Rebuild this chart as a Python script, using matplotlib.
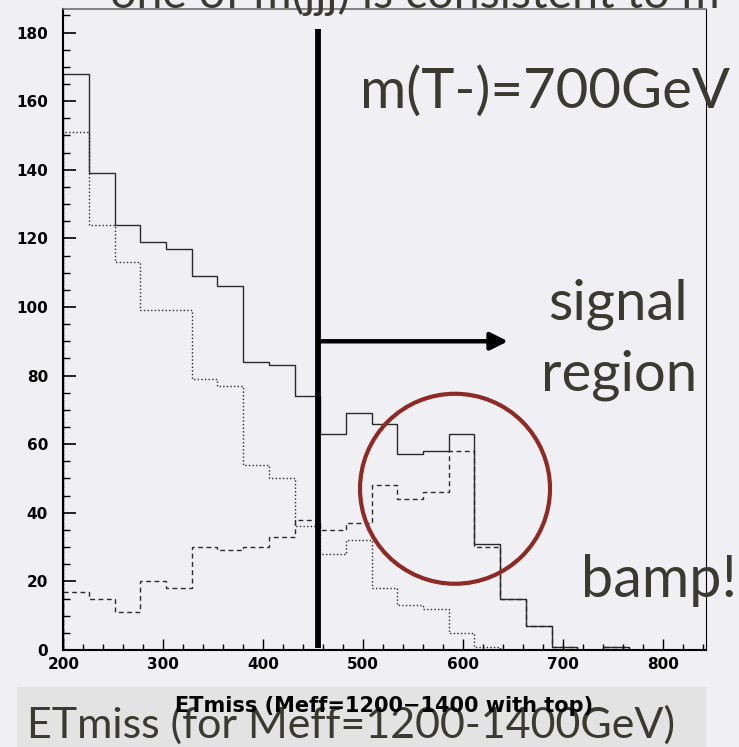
import numpy as np
import matplotlib
matplotlib.use("Agg")
import matplotlib.pyplot as plt
from matplotlib.patches import Ellipse, Rectangle
from matplotlib.ticker import MultipleLocator

# ETmiss histogram, 25 bins starting at 200 GeV
bin_start = 200.0
bin_width = 25.714
n_bins = 25

# total (solid), other background (dotted), events with top (dashed)
total = [168, 139, 124, 119, 117, 109, 106, 84, 83, 74, 63, 69, 66,
         57, 58, 63, 31, 15, 7, 1, 0, 1, 0, 0, 0]
other = [151, 124, 113, 99, 99, 79, 77, 54, 50, 36, 28, 32, 18,
         13, 12, 5, 1, 0, 0, 0, 0, 0, 0, 0, 0]
with_top = [17, 15, 11, 20, 18, 30, 29, 30, 33, 38, 35, 37, 48,
            44, 46, 58, 30, 15, 7, 1, 0, 1, 0, 0, 0]

cut_value = 455          # signal-region cut on ETmiss
arrow_y = 90
arrow_end = 645
bump_center = (592, 47)  # circled excess

x_ticks = [200, 300, 400, 500, 600, 700, 800]
y_ticks = [0, 20, 40, 60, 80, 100, 120, 140, 160, 180]

edges = bin_start + bin_width * np.arange(n_bins + 1)

BG = "#F0F0F4"
TXT = "#3A3A30"
SLIDE_FONT = ["Lato", "DejaVu Sans"]

fig = plt.figure(figsize=(7.39, 7.47), dpi=100, facecolor=BG)
ax = fig.add_axes([0.0857, 0.1299, 0.8692, 0.8577])
ax.set_facecolor("none")

ax.stairs(total, edges, color="#2a2a2a", lw=1.0)
ax.stairs(other, edges, color="#2a2a2a", lw=1.0, linestyle=(0, (1, 1.6)))
ax.stairs(with_top, edges, color="#2a2a2a", lw=1.0, linestyle=(0, (3.5, 2.5)))

ax.set_xlim(edges[0], edges[-1])
ax.set_ylim(0, 186.8)

ax.set_xticks(x_ticks)
ax.set_yticks(y_ticks)
ax.xaxis.set_minor_locator(MultipleLocator(20))
ax.yaxis.set_minor_locator(MultipleLocator(5))
ax.tick_params(axis="both", which="both", direction="in", color="black")
ax.tick_params(axis="y", which="major", length=9.5, width=1.2, pad=11)
ax.tick_params(axis="y", which="minor", length=4.8, width=1.0)
ax.tick_params(axis="x", which="major", length=8, width=1.0, pad=5)
ax.tick_params(axis="x", which="minor", length=4.3, width=1.0)
for lbl in ax.get_xticklabels() + ax.get_yticklabels():
    lbl.set_fontfamily("DejaVu Sans")
    lbl.set_fontweight("bold")
    lbl.set_fontsize(11)

ax.spines["left"].set_linewidth(1.5)
ax.spines["bottom"].set_linewidth(1.5)
ax.spines["right"].set_linewidth(0.8)
ax.spines["top"].set_linewidth(1.2)
ax.spines["top"].set_color("#707070")

# cut line and arrow into the signal region
ax.plot([cut_value, cut_value], [0.5, 181], color="black", lw=4.2,
        solid_capstyle="butt", zorder=5)
ax.annotate("", xy=(arrow_end, arrow_y), xytext=(cut_value, arrow_y),
            arrowprops=dict(arrowstyle="-|>", lw=3.2, color="black",
                            mutation_scale=26, shrinkA=0, shrinkB=0),
            zorder=5)

# circle round the excess (equal pixel radius in x and y)
px_per_x = ax.get_window_extent().width / (edges[-1] - edges[0])
px_per_y = ax.get_window_extent().height / 186.8
r_px = 95
ax.add_patch(Ellipse(bump_center, 2 * r_px / px_per_x, 2 * r_px / px_per_y,
                     fill=False, edgecolor="#8E2A24", lw=3.0, zorder=6))

# slide annotations
fig.text(730 / 739, 1 - 108 / 747, "m(T-)=700GeV", ha="right", va="baseline",
         fontsize=40.5, color=TXT, family=SLIDE_FONT)
fig.text(688 / 739, 1 - 320 / 747, "signal", ha="right", va="baseline",
         fontsize=40.5, color=TXT, family=SLIDE_FONT)
fig.text(697 / 739, 1 - 390 / 747, "region", ha="right", va="baseline",
         fontsize=40.5, color=TXT, family=SLIDE_FONT)
fig.text(737 / 739, 1 - 597 / 747, "bamp!", ha="right", va="baseline",
         fontsize=41.5, color=TXT, family=SLIDE_FONT)
fig.text(110 / 739, 1 - 8 / 747, "one of m(jjj) is consistent to m",
         ha="left", va="baseline", fontsize=33.5, color=TXT, family=SLIDE_FONT)

# caption band under the plot
fig.add_artist(Rectangle((17 / 739, 0), (705.7 - 17) / 739, 60 / 747,
                         transform=fig.transFigure, facecolor="#E3E3E3",
                         edgecolor="none", zorder=0))
fig.text(27 / 739, 9 / 747, "ETmiss (for Meff=1200-1400GeV)", ha="left",
         va="baseline", fontsize=31, color=TXT, family=SLIDE_FONT, zorder=2)
fig.text(384.5 / 739, 35 / 747, "ETmiss (Meff=1200\u22121400 with top)",
         ha="center", va="baseline", fontsize=15, fontweight="bold",
         color="black", family="DejaVu Sans", zorder=3)

fig.savefig("out.png", dpi=100, facecolor=BG)
